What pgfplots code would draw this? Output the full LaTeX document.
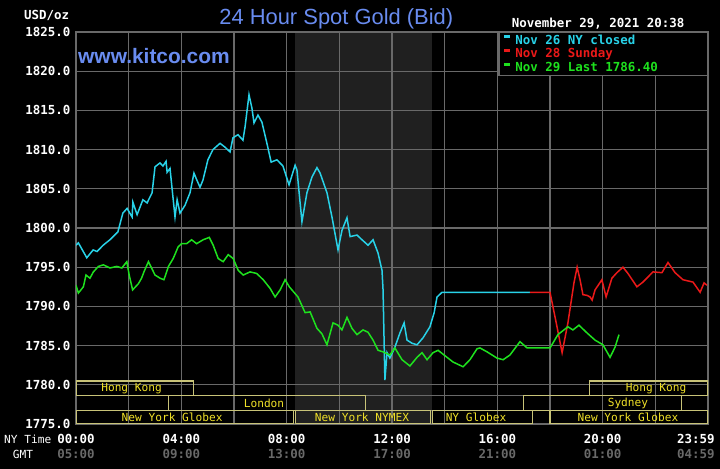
\documentclass[border=0pt]{standalone}
\usepackage{fontspec}
\setmainfont{Liberation Sans}
\newfontfamily\monof{DejaVu Sans Mono}
\usepackage{pgfplots}
\pgfplotsset{compat=1.18}

\definecolor{kcyan}{RGB}{40,210,232}
\definecolor{kred}{RGB}{235,25,25}
\definecolor{kgreen}{RGB}{30,225,30}
\definecolor{gridgray}{RGB}{105,105,105}
\definecolor{shade}{RGB}{32,32,32}
\definecolor{kblue}{RGB}{105,140,240}
\definecolor{sessline}{RGB}{200,195,120}
\definecolor{sesstext}{RGB}{240,225,40}
\definecolor{gmtgray}{RGB}{105,105,105}

\newcommand\mb{\monof\bfseries\fontsize{12.5}{14}\selectfont}
\newcommand\ms{\monof\fontsize{11.2}{13}\selectfont}

\pagecolor{black}

\begin{document}
\begin{tikzpicture}[x=1bp,y=1bp]
\path (-76,-45) rectangle (644,424);
\node[anchor=base, text=kblue, font=\fontsize{22}{24}\selectfont] at (260.3,399) {24 Hour Spot Gold (Bid)};
\node[anchor=base west, inner sep=0, text=kblue, font=\bfseries\fontsize{21}{24}\selectfont] at (2,360.7) {www.kitco.com};
\node[anchor=base west, inner sep=0, text=white, font=\mb] at (-52,404) {USD/oz};
\node[anchor=base west, inner sep=0, text=white, font=\mb] at (435.7,396.7) {November 29, 2021 20:38};
\node[anchor=base west, inner sep=0, text=white, font=\ms] at (-72,-19.3) {NY Time};
\node[anchor=base west, inner sep=0, text=white, font=\ms] at (-63.3,-34.3) {GMT};

\begin{axis}[
    at={(0,0)}, anchor=south west,
    scale only axis, width=632bp, height=392bp,
    set layers,
    xmin=0, xmax=24, ymin=1775, ymax=1825,
    axis line style={gridgray, line width=1.2bp},
    grid=major,
    major grid style={gridgray, line width=1.2bp},
    major tick length=0,
    xtick={0,2,...,24},
    xticklabels={00:00,,04:00,,08:00,,12:00,,16:00,,20:00,,\makebox[13bp][r]{23:59}},
    extra x ticks={0,4,8,12,16,20,24},
    extra x tick labels={05:00,09:00,13:00,17:00,21:00,01:00,\makebox[13bp][r]{04:59}},
    extra x tick style={grid=none, tick label style={yshift=-15bp, text=gmtgray}},
    ytick={1775,1780,...,1825},
    /pgf/number format/assume math mode=true,
    /pgf/number format/.cd, fixed, fixed zerofill, precision=1, 1000 sep={},
    /pgfplots/.cd,
    tick label style={font=\mb, text=white},
    xticklabel style={yshift=-6.5bp},
    yticklabel style={xshift=-2bp},
    legend style={at={(1,1)}, anchor=north east, fill=black,
        draw=gridgray, line width=1.2bp, font=\mb, inner xsep=4bp, inner ysep=0bp,
        row sep=-1bp, column sep=2bp},
    legend cell align=left,
    legend image code/.code={\draw[#1, line width=2.5bp] (0bp,3.5bp) -- (6bp,3.5bp);},
]
\addplot[fill=shade, draw=none, forget plot, on layer=axis background]
    coordinates {(8.333,1775) (8.333,1825) (13.5,1825) (13.5,1775)} -- cycle;

% Nov 26 (cyan)
\addplot[kcyan, line width=1.5bp] coordinates {
(0.00,1797.8) (0.09,1798.1) (0.41,1796.2) (0.65,1797.2) (0.80,1797.0) (1.03,1797.8)
(1.29,1798.5) (1.59,1799.5) (1.78,1801.9) (1.94,1802.5) (2.13,1801.4) (2.16,1803.3)
(2.32,1801.7) (2.54,1803.6) (2.70,1803.2) (2.89,1804.5) (3.00,1807.8) (3.19,1808.3)
(3.30,1807.9) (3.42,1808.5) (3.46,1807.1) (3.57,1807.6) (3.68,1804.0) (3.76,1801.4)
(3.84,1803.6) (3.95,1801.9) (4.14,1802.9) (4.33,1804.5) (4.48,1807.0) (4.59,1806.1)
(4.71,1805.2) (4.82,1806.1) (5.01,1808.7) (5.20,1810.0) (5.47,1810.8) (5.66,1810.3)
(5.85,1809.7) (5.96,1811.5) (6.15,1811.9) (6.34,1811.2) (6.42,1812.9) (6.57,1817.0)
(6.68,1815.3) (6.76,1813.4) (6.91,1814.4) (7.06,1813.5) (7.25,1810.8) (7.41,1808.4)
(7.63,1808.7) (7.86,1807.9) (8.09,1805.5) (8.32,1808.0) (8.39,1807.4) (8.58,1800.8)
(8.77,1804.5) (8.96,1806.5) (9.15,1807.7) (9.27,1807.0) (9.53,1804.5) (9.72,1801.4)
(9.95,1797.2) (10.10,1799.7) (10.29,1801.3) (10.41,1798.9) (10.67,1799.1) (10.86,1798.5)
(11.09,1797.8) (11.28,1798.5) (11.47,1796.8) (11.62,1794.6) (11.66,1792.1) (11.73,1780.6)
(11.81,1784.1) (11.92,1783.4) (12.11,1784.8) (12.30,1786.6) (12.46,1787.9) (12.57,1785.7)
(12.76,1785.3) (12.95,1785.1) (13.18,1786.0) (13.44,1787.4) (13.60,1789.2) (13.71,1791.2)
(13.90,1791.8) (17.24,1791.8)
};
\addlegendentry{\makebox[186bp][l]{\textcolor{kcyan}{Nov 26 NY closed}}}

% Nov 28 (red)
\addplot[kred, line width=1.5bp] coordinates {
(17.24,1791.8) (18.00,1791.8) (18.23,1788.0) (18.46,1784.1) (18.68,1787.9) (18.91,1793.0)
(19.03,1795.0) (19.14,1793.4) (19.25,1791.5) (19.41,1791.4) (19.52,1791.2) (19.60,1790.8)
(19.71,1792.1) (19.97,1793.4) (20.13,1791.2) (20.35,1793.6) (20.54,1794.3) (20.77,1795.0)
(20.96,1794.2) (21.30,1792.5) (21.53,1793.1) (21.91,1794.4) (22.25,1794.3) (22.48,1795.6)
(22.75,1794.3) (23.05,1793.4) (23.43,1793.1) (23.70,1791.8) (23.85,1793.0) (23.96,1792.7)
};
\addlegendentry{\textcolor{kred}{Nov 28 Sunday}}

% Nov 29 (green)
\addplot[kgreen, line width=1.5bp] coordinates {
(0.00,1792.7) (0.09,1791.7) (0.28,1792.5) (0.38,1794.0) (0.53,1793.6) (0.66,1794.4)
(0.85,1795.1) (1.04,1795.3) (1.29,1794.9) (1.55,1795.1) (1.74,1794.9) (1.93,1795.7)
(2.02,1794.0) (2.15,1792.1) (2.37,1792.9) (2.49,1793.6) (2.58,1794.4) (2.75,1795.7)
(2.87,1794.9) (3.00,1794.0) (3.19,1793.6) (3.34,1793.4) (3.51,1795.1) (3.69,1796.1)
(3.88,1797.6) (4.01,1798.0) (4.20,1798.0) (4.39,1798.5) (4.58,1798.0) (4.83,1798.5)
(5.06,1798.8) (5.21,1797.8) (5.40,1796.1) (5.59,1795.7) (5.78,1796.6) (5.97,1796.1)
(6.16,1794.6) (6.35,1794.0) (6.61,1794.4) (6.86,1794.2) (7.11,1793.4) (7.37,1792.3)
(7.56,1791.2) (7.75,1792.1) (7.94,1793.4) (8.10,1792.5) (8.20,1792.1) (8.43,1791.2)
(8.70,1789.2) (8.89,1789.3) (9.15,1787.2) (9.34,1786.5) (9.53,1785.1) (9.76,1787.9)
(9.95,1787.6) (10.10,1787.0) (10.29,1788.6) (10.48,1787.2) (10.67,1786.4) (10.90,1787.0)
(11.09,1786.7) (11.28,1785.7) (11.47,1784.4) (11.66,1784.2) (11.92,1783.8) (12.11,1784.7)
(12.38,1783.2) (12.68,1782.4) (12.95,1783.5) (13.14,1784.1) (13.33,1783.2) (13.56,1784.1)
(13.75,1784.4) (14.09,1783.5) (14.32,1782.9) (14.70,1782.3) (14.96,1783.2) (15.23,1784.6)
(15.34,1784.7) (15.61,1784.2) (15.99,1783.4) (16.22,1783.2) (16.48,1783.8) (16.86,1785.5)
(17.13,1784.7) (18.00,1784.7) (18.30,1786.4) (18.68,1787.4) (18.87,1787.0) (19.10,1787.6)
(19.41,1786.6) (19.71,1785.7) (20.01,1785.1) (20.28,1783.5) (20.47,1784.8) (20.62,1786.4)
};
\addlegendentry{\textcolor{kgreen}{Nov 29 Last 1786.40}}

% trading sessions
\draw[gridgray, line width=1bp] (0,1778.63) -- (24,1778.63) (0,1776.72) -- (24,1776.72);
\begin{scope}[sessline, line width=1.2bp]
\draw (0,1778.63) rectangle (4.45,1780.48);
\draw (19.5,1778.63) rectangle (24,1780.48);
\draw (3.5,1776.72) rectangle (11.0,1778.63);
\draw (17.0,1776.72) rectangle (23.0,1778.63);
\draw (0,1775) rectangle (8.25,1776.72);
\draw (8.35,1775) rectangle (13.45,1776.72);
\draw (13.55,1775) rectangle (17.35,1776.72);
\draw (18.0,1775) rectangle (24,1776.72);
\end{scope}
\begin{scope}[every node/.style={text=sesstext, font=\ms, inner sep=0}]
\node at (2.11,1779.55) {Hong Kong};
\node at (22.03,1779.55) {Hong Kong};
\node at (7.14,1777.67) {London};
\node at (20.96,1777.67) {Sydney};
\node at (3.65,1775.86) {New York Globex};
\node at (10.86,1775.86) {New York NYMEX};
\node at (15.19,1775.86) {NY Globex};
\node at (20.96,1775.86) {New York Globex};
\end{scope}
\end{axis}
\end{tikzpicture}
\end{document}
